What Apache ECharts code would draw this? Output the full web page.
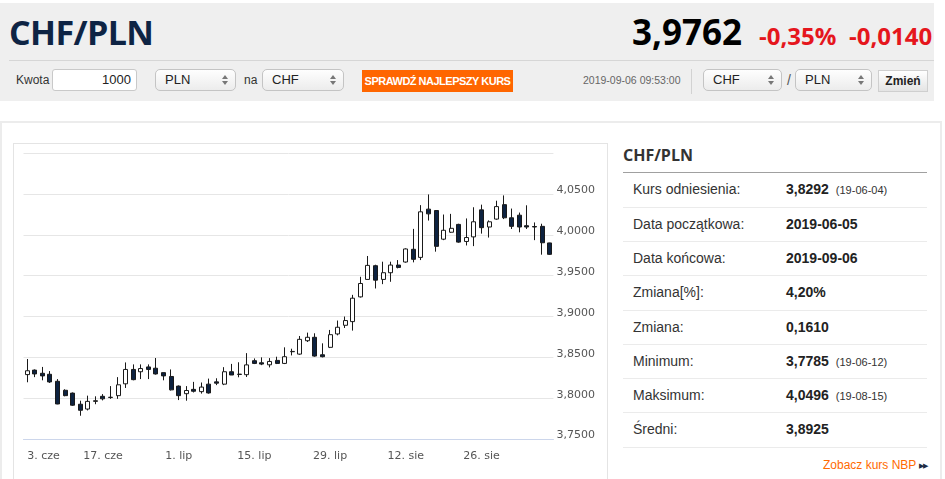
<!DOCTYPE html>
<html>
<head>
<meta charset="utf-8">
<title>CHF/PLN</title>
<script src="https://cdn.jsdelivr.net/npm/echarts@6/dist/echarts.min.js"></script>
<style>
body{margin:0;width:945px;height:479px;overflow:hidden;background:#fff;position:relative;
  font-family:"Liberation Sans",Arial,sans-serif;color:#333}
.a{position:absolute;white-space:nowrap}
#head{left:0;top:3px;width:934px;height:98px;background:#efefef}
#sep{left:9px;top:60px;width:925px;height:1px;background:#d6d6d6}
.big{font-family:"Open Sans",sans-serif;font-weight:700;line-height:1}
.lbl{font-size:12px;line-height:22px;top:69px;color:#333}
.sel{position:absolute;top:69px;height:22px;box-sizing:border-box;border:1px solid #c4c4c4;border-radius:5px;
  background:linear-gradient(#fefefe,#ececec);font-size:13px;line-height:20px;padding-left:9px;color:#222}
.up,.dn{position:absolute;right:7px;width:0;height:0;border-left:3px solid transparent;border-right:3px solid transparent}
.up{top:5px;border-bottom:4px solid #777}
.dn{top:11px;border-top:4px solid #777}
#btn{left:362px;top:70px;width:151px;height:22px;background:#ff6600;color:#fff;font-weight:700;font-size:11px;
  letter-spacing:-0.5px;line-height:22px;text-align:center}
#zm{left:878px;top:70px;width:50px;height:22px;box-sizing:border-box;border:1px solid #cfcfcf;
  background:linear-gradient(#ffffff,#e4e4e4);font-weight:700;font-size:12px;line-height:20px;text-align:center;color:#222}
#outer{left:0;top:121px;width:942px;height:400px;box-sizing:border-box;border:2px solid #ececec}
#box{left:13px;top:143px;width:595px;height:360px;box-sizing:border-box;border:1px solid #e4e4e4}
#main{position:absolute;left:14px;top:144px;width:593px;height:335px}
.row{position:absolute;left:623px;width:304px;box-sizing:border-box;border-bottom:1px solid #ebebeb;font-size:14px}
.row .k{position:absolute;left:10px;color:#333}
.row .v{position:absolute;left:163px;font-weight:700;color:#222}
.row .d{font-weight:400;font-size:11px;margin-left:7px;color:#333}
</style>
</head>
<body>
<div class="a" id="head"></div>
<div class="a" id="sep"></div>
<div class="a big" style="left:9px;top:14.5px;font-size:34px;color:#0e2444;letter-spacing:-0.6px">CHF/PLN</div>
<div class="a big" style="left:632px;top:14px;font-size:35px;color:#000">3,9762</div>
<div class="a big" style="left:759px;top:23.7px;font-size:24px;color:#e5161d">-0,35%</div>
<div class="a big" style="left:849px;top:23.7px;font-size:24px;color:#e5161d">-0,0140</div>

<div class="a lbl" style="left:16px">Kwota</div>
<div class="a" style="left:52px;top:69px;width:85px;height:22px;box-sizing:border-box;border:1px solid #c9c9c9;border-radius:3px;background:#fff;font-size:13px;line-height:20px;text-align:right;padding-right:5px;color:#222">1000</div>
<div class="sel" style="left:155px;width:81px">PLN<span class="up"></span><span class="dn"></span></div>
<div class="a lbl" style="left:244px">na</div>
<div class="sel" style="left:262px;width:82px">CHF<span class="up"></span><span class="dn"></span></div>
<div class="a" id="btn">SPRAWDŹ NAJLEPSZY KURS</div>

<div class="a" style="left:583px;top:69px;font-size:10.5px;line-height:22px;color:#666">2019-09-06 09:53:00</div>
<div class="a" style="left:691px;top:69px;width:1px;height:25px;background:#d2d2d2"></div>
<div class="sel" style="left:703px;width:79px">CHF<span class="up"></span><span class="dn"></span></div>
<div class="a" style="left:787px;top:69px;font-size:14px;line-height:22px;color:#555">/</div>
<div class="sel" style="left:795px;width:77px">PLN<span class="up"></span><span class="dn"></span></div>
<div class="a" id="zm">Zmień</div>

<div class="a" id="outer"></div>
<div class="a" id="box"></div>
<div id="main"></div>

<div class="a big" style="left:623px;top:147px;font-size:16px;color:#333">CHF/PLN</div>
<div class="a" style="left:623px;top:172px;width:304px;height:1px;background:#a0a0a0"></div>
<div id="tab"></div>
<div class="a" style="left:823px;top:457px;font-size:12px;line-height:16px;color:#ff6a00">Zobacz kurs NBP <span style="color:#1d2b44;font-size:7px;letter-spacing:-1px;vertical-align:1px">▶▶</span></div>

<script>
// notowania dzienne CHF/PLN
var dates = [
    '2019-06-03','2019-06-04','2019-06-05','2019-06-06','2019-06-07','2019-06-10','2019-06-11','2019-06-12','2019-06-13','2019-06-14',
    '2019-06-17','2019-06-18','2019-06-19','2019-06-20','2019-06-21','2019-06-24','2019-06-25','2019-06-26','2019-06-27','2019-06-28',
    '2019-07-01','2019-07-02','2019-07-03','2019-07-04','2019-07-05','2019-07-08','2019-07-09','2019-07-10','2019-07-11','2019-07-12',
    '2019-07-15','2019-07-16','2019-07-17','2019-07-18','2019-07-19','2019-07-22','2019-07-23','2019-07-24','2019-07-25','2019-07-26',
    '2019-07-29','2019-07-30','2019-07-31','2019-08-01','2019-08-02','2019-08-05','2019-08-06','2019-08-07','2019-08-08','2019-08-09',
    '2019-08-12','2019-08-13','2019-08-14','2019-08-15','2019-08-16','2019-08-19','2019-08-20','2019-08-21','2019-08-22','2019-08-23',
    '2019-08-26','2019-08-27','2019-08-28','2019-08-29','2019-08-30','2019-09-02','2019-09-03','2019-09-04','2019-09-05','2019-09-06'
];
var opens = [
    3.8289,3.8344,3.8305,3.8293,3.8207,3.8097,3.8062,3.7926,3.7867,3.7961,
    3.8023,3.8008,3.8031,3.8176,3.8352,3.8324,3.8383,3.8367,3.8313,3.8266,
    3.8148,3.8055,3.8108,3.8080,3.8172,3.8200,3.8172,3.8324,3.8290,3.8288,
    3.8459,3.8434,3.8409,3.8463,3.8426,3.8569,3.8540,3.8704,3.8746,3.8532,
    3.8623,3.8787,3.8893,3.8938,3.9241,3.9455,3.9623,3.9455,3.9537,3.9631,
    3.9668,3.9824,3.9725,4.0316,4.0299,3.9948,4.0033,4.0129,3.9920,3.9976,
    4.0307,4.0097,4.0194,4.0371,4.0210,4.0242,4.0113,4.0103,4.0105,3.9902
];
var closes = [
    3.8336,3.8297,3.8273,3.8199,3.7929,3.8031,3.7914,3.7852,3.7961,3.7969,
    3.7992,3.8012,3.8164,3.8352,3.8227,3.8363,3.8352,3.8297,3.8273,3.8102,
    3.8031,3.8094,3.8085,3.8136,3.8064,3.8184,3.8324,3.8284,3.8295,3.8408,
    3.8426,3.8418,3.8450,3.8426,3.8508,3.8573,3.8721,3.8746,3.8516,3.8508,
    3.8778,3.8869,3.8951,3.9225,3.9405,3.9627,3.9446,3.9537,3.9631,3.9602,
    3.9828,3.9701,4.0283,4.0258,3.9860,4.0057,4.0081,3.9912,3.9968,4.0161,
    4.0089,4.0161,4.0347,4.0210,4.0105,4.0097,4.0097,4.0097,3.9904,3.9762
];
var lows = [
    3.8195,3.8258,3.8219,3.8187,3.7926,3.8023,3.7906,3.7785,3.7850,3.7926,
    3.7973,3.7992,3.7992,3.8125,3.8219,3.8234,3.8234,3.8289,3.8219,3.8094,
    3.7977,3.7969,3.8070,3.8056,3.8056,3.8160,3.8160,3.8284,3.8256,3.8260,
    3.8418,3.8405,3.8377,3.8418,3.8418,3.8524,3.8532,3.8688,3.8508,3.8500,
    3.8614,3.8770,3.8860,3.8828,3.9233,3.9455,3.9344,3.9397,3.9426,3.9590,
    3.9660,3.9664,3.9692,4.0176,3.9795,3.9936,4.0025,3.9904,3.9871,3.9863,
    4.0016,3.9968,4.0186,4.0194,4.0073,4.0032,4.0073,3.9936,3.9758,3.9755
];
var highs = [
    3.8480,3.8352,3.8383,3.8332,3.8234,3.8109,3.8070,3.7969,3.8031,3.8023,
    3.8050,3.8148,3.8258,3.8438,3.8414,3.8414,3.8414,3.8492,3.8313,3.8352,
    3.8156,3.8148,3.8200,3.8192,3.8240,3.8244,3.8380,3.8420,3.8440,3.8552,
    3.8487,3.8500,3.8491,3.8508,3.8623,3.8606,3.8762,3.8803,3.8795,3.8672,
    3.8836,3.8951,3.9000,3.9266,3.9487,3.9742,3.9635,3.9672,3.9672,3.9692,
    3.9836,4.0074,4.0365,4.0496,4.0299,4.0250,4.0258,4.0137,4.0202,4.0339,
    4.0371,4.0178,4.0419,4.0484,4.0323,4.0274,4.0363,4.0153,4.0137,3.9904
];
var monthsPl = ['sty','lut','mar','kwi','maj','cze','lip','sie','wrz','paź','lis','gru'];

// tabelka po prawej
var statLabels = ['Kurs odniesienia:','Data początkowa:','Data końcowa:','Zmiana[%]:','Zmiana:','Minimum:','Maksimum:','Średni:'];
var statValues = ['3,8292','2019-06-05','2019-09-06','4,20%','0,1610','3,7785','4,0496','3,8925'];
var statDates = ['(19-06-04)','','','','','(19-06-12)','(19-08-15)',''];

var tab = document.getElementById('tab');
for (var i = 0; i < statLabels.length; i++) {
    var r = document.createElement('div');
    r.className = 'row';
    r.style.top = (173.4 + i * 34.29) + 'px';
    r.style.height = '34.29px';
    r.style.lineHeight = '33.3px';
    r.innerHTML = '<span class="k">' + statLabels[i] + '</span><span class="v">' + statValues[i] +
        (statDates[i] ? '<span class="d">' + statDates[i] + '</span>' : '') + '</span>';
    tab.appendChild(r);
}

// candlestick: [open, close, low, high]
var ohlc = [];
for (var j = 0; j < dates.length; j++) {
    ohlc.push([opens[j], closes[j], lows[j], highs[j]]);
}

function everyTwoWeeks(idx) {
    return idx % 10 === 0;
}

var myChart = echarts.init(document.getElementById('main'));
myChart.setOption({
    animation: false,
    grid: {left: 9.5, right: 53.6, top: 9.3, bottom: 40},
    xAxis: {
        type: 'category',
        data: dates,
        boundaryGap: true,
        axisLine: {lineStyle: {color: '#ccd6eb'}},
        axisTick: {alignWithLabel: true, interval: everyTwoWeeks, length: 8, lineStyle: {color: '#ccd6eb'}},
        axisLabel: {
            interval: everyTwoWeeks,
            margin: 12,
            color: '#555',
            fontFamily: 'DejaVu Sans',
            fontSize: 11,
            alignMinLabel: 'left',
            formatter: function (v) {
                var p = v.split('-');
                return parseInt(p[2], 10) + '. ' + monthsPl[parseInt(p[1], 10) - 1];
            }
        },
        splitLine: {show: false}
    },
    yAxis: {
        type: 'value',
        position: 'right',
        min: 3.75,
        max: 4.10,
        interval: 0.05,
        axisLine: {show: false},
        axisTick: {show: false},
        splitLine: {lineStyle: {color: '#e6e6e6'}},
        axisLabel: {
            showMaxLabel: false,
            margin: 3,
            verticalAlign: 'bottom',
            padding: [0, 0, -2, 0],
            color: '#555',
            fontFamily: 'DejaVu Sans',
            fontSize: 11,
            formatter: function (v) {
                return v.toFixed(4).replace('.', ',');
            }
        }
    },
    series: [{
        type: 'candlestick',
        data: ohlc,
        barWidth: 4.5,
        itemStyle: {
            color: '#ffffff',
            color0: '#0d2240',
            borderColor: '#1a1a1a',
            borderColor0: '#1a1a1a',
            borderWidth: 1
        }
    }]
});
</script>
</body>
</html>
